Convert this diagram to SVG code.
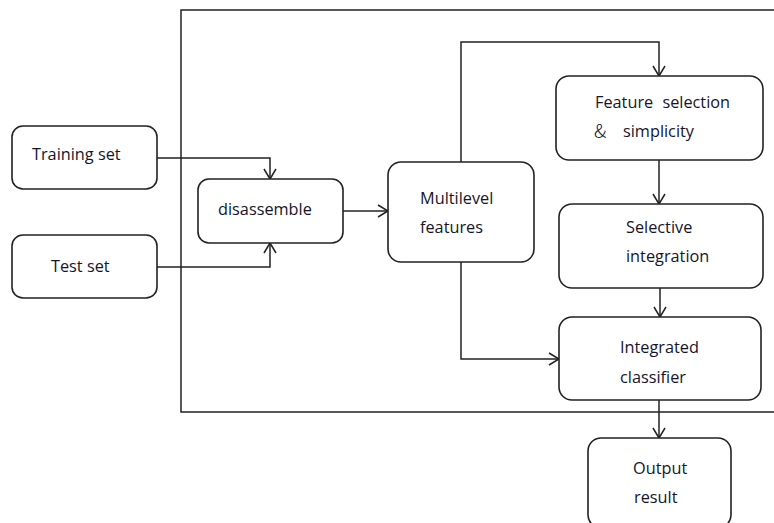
<svg xmlns="http://www.w3.org/2000/svg" width="774" height="523" viewBox="0 0 774 523">
<style>
.box{fill:#fff;stroke:#222;stroke-width:1.6}
.ln{fill:none;stroke:#222;stroke-width:1.5}
text{font-family:"Open Sans","Liberation Sans",sans-serif;font-size:16.3px;fill:#15152a}
.amp{font-family:"Noto Sans CJK SC","Liberation Serif",serif;font-size:19px;font-weight:300}
</style>
<defs>
<marker id="ah" markerWidth="14" markerHeight="14" refX="11" refY="7" orient="auto" markerUnits="userSpaceOnUse">
<polyline points="1,1 11,7 1,13" fill="none" stroke="#222" stroke-width="1.5"/>
</marker>
</defs>
<rect width="774" height="523" fill="#fff"/>
<g id="frame"><polyline class="ln" points="774,10 181,10 181,412 774,412"/></g>
<g id="connectors">
<polyline class="ln" points="157,158 270,158 270,179" marker-end="url(#ah)"/>
<polyline class="ln" points="157,267 270,267 270,243" marker-end="url(#ah)"/>
<line class="ln" x1="343" y1="211" x2="388" y2="211" marker-end="url(#ah)"/>
<polyline class="ln" points="461,162 461,42 659,42 659,76" marker-end="url(#ah)"/>
<line class="ln" x1="659" y1="160" x2="659" y2="204" marker-end="url(#ah)"/>
<line class="ln" x1="660" y1="288" x2="660" y2="317" marker-end="url(#ah)"/>
<polyline class="ln" points="461,262 461,359 559,359" marker-end="url(#ah)"/>
<line class="ln" x1="659" y1="400" x2="659" y2="438" marker-end="url(#ah)"/>
</g>
<g id="training"><rect class="box" x="12" y="126" width="145" height="63" rx="11"/><text x="32" y="160">Training set</text></g>
<g id="test"><rect class="box" x="12" y="235" width="145" height="63" rx="11"/><text x="51" y="272">Test set</text></g>
<g id="disassemble"><rect class="box" x="198" y="179" width="145" height="64" rx="11"/><text x="218" y="215">disassemble</text></g>
<g id="multilevel"><rect class="box" x="388" y="162" width="146" height="100" rx="13"/><text x="420" y="204">Multilevel</text><text x="420" y="233">features</text></g>
<g id="featsel"><rect class="box" x="556" y="76" width="207" height="84" rx="13"/><text x="595" y="108" word-spacing="5">Feature selection</text><text class="amp" x="594" y="138">&amp;</text><text x="623" y="137">simplicity</text></g>
<g id="selective"><rect class="box" x="559" y="204" width="204" height="84" rx="13"/><text x="626" y="233">Selective</text><text x="626" y="262">integration</text></g>
<g id="integrated"><rect class="box" x="559" y="317" width="202" height="83" rx="13"/><text x="620" y="353">Integrated</text><text x="620" y="383">classifier</text></g>
<g id="output"><rect class="box" x="588" y="438" width="143" height="90" rx="13"/><text x="633" y="474">Output</text><text x="634" y="503">result</text></g>
</svg>
